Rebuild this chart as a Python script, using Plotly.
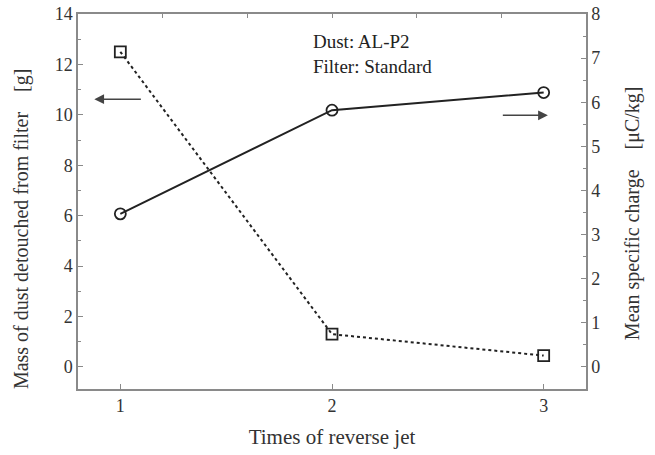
import plotly.graph_objects as go

times = [1, 2, 3]
mass_detached = [12.5, 1.3, 0.45]      # g (left axis)
specific_charge = [3.47, 5.82, 6.22]   # uC/kg (right axis)
x_ticks = [1, 2, 3]
left_ticks = [0, 2, 4, 6, 8, 10, 12, 14]
right_ticks = [0, 1, 2, 3, 4, 5, 6, 7, 8]

FONT = "Liberation Serif"
TXT = "#333333"
AX = "#8a8a8a"
TICKF = dict(family=FONT, size=18, color=TXT)
NB = "\u00a0"

fig = go.Figure()
fig.add_trace(go.Scatter(
    x=times, y=mass_detached, mode="lines+markers",
    line=dict(color="#222222", width=2, dash="dot"),
    marker=dict(symbol="square-open", size=11, color="#222222", line=dict(width=1.8)),
    yaxis="y", showlegend=False))
fig.add_trace(go.Scatter(
    x=times, y=specific_charge, mode="lines+markers",
    line=dict(color="#222222", width=2),
    marker=dict(symbol="circle-open", size=11, color="#222222", line=dict(width=1.8)),
    yaxis="y2", showlegend=False))
# dummy trace for top axis
fig.add_trace(go.Scatter(x=[1], y=[0], xaxis="x2", yaxis="y", mode="markers",
                         marker=dict(opacity=0), showlegend=False, hoverinfo="skip"))

fig.update_layout(
    width=655, height=455,
    margin=dict(l=78, r=69, t=14, b=66),
    paper_bgcolor="white", plot_bgcolor="white",
    font=dict(family=FONT, size=18, color=TXT),
    xaxis=dict(range=[0.8, 3.2], tickvals=x_ticks, ticks="inside", ticklen=5,
               tickcolor=AX, showline=True, linecolor=AX, linewidth=1.5,
               showgrid=False, zeroline=False, automargin=False, tickfont=TICKF,
               title=dict(text="Times of reverse jet", standoff=14,
                          font=dict(family=FONT, size=21, color=TXT))),
    xaxis2=dict(range=[0.8, 3.2], overlaying="x", side="top",
                tickvals=[1.2, 1.6, 2.0, 2.4, 2.8], ticks="inside", ticklen=4,
                tickcolor=AX, showticklabels=False, showline=True, linecolor=AX,
                linewidth=1.5, showgrid=False, zeroline=False, automargin=False),
    yaxis=dict(range=[-0.875, 14], tickvals=left_ticks, ticks="inside", ticklen=5,
               tickcolor=AX, showline=True, linecolor=AX, linewidth=1.5,
               showgrid=False, zeroline=False, automargin=False, tickfont=TICKF,
               minor=dict(dtick=1, ticks="inside", ticklen=3, tickcolor=AX)),
    yaxis2=dict(range=[-0.5, 8], tickvals=right_ticks, overlaying="y", side="right",
                ticks="inside", ticklen=5, tickcolor=AX, showline=True, linecolor=AX,
                linewidth=1.5, showgrid=False, zeroline=False, automargin=False,
                tickfont=TICKF,
                minor=dict(dtick=0.5, ticks="inside", ticklen=3, tickcolor=AX)),
    annotations=[
        dict(x=1.903, y=13.4, xref="x", yref="y", xanchor="left", yanchor="top",
             align="left", showarrow=False,
             text="Dust: AL-P2<br>Filter: Standard",
             font=dict(family=FONT, size=19, color="#222222")),
        dict(x=-0.110, y=0.4267, xref="paper", yref="paper", textangle=-90,
             xanchor="center", yanchor="middle", showarrow=False,
             text="Mass of dust detouched from filter" + NB * 4 + "[g]",
             font=dict(family=FONT, size=20, color=TXT)),
        dict(x=1.0906, y=0.469, xref="paper", yref="paper", textangle=-90,
             xanchor="center", yanchor="middle", showarrow=False,
             text="Mean specific charge" + NB * 4 + "[μC/kg]",
             font=dict(family=FONT, size=20, color=TXT)),
        dict(x=0.877, y=10.62, ax=1.104, ay=10.62, xref="x", yref="y",
             axref="x", ayref="y", text="", showarrow=True, arrowhead=2,
             arrowsize=1.3, arrowwidth=1.5, arrowcolor="#444444"),
        dict(x=3.02, y=9.98, ax=2.80, ay=9.98, xref="x", yref="y",
             axref="x", ayref="y", text="", showarrow=True, arrowhead=2,
             arrowsize=1.3, arrowwidth=1.5, arrowcolor="#444444"),
    ],
)

fig.write_html("out.html", config={"displayModeBar": False},
               post_script="document.body.style.margin='0';")
